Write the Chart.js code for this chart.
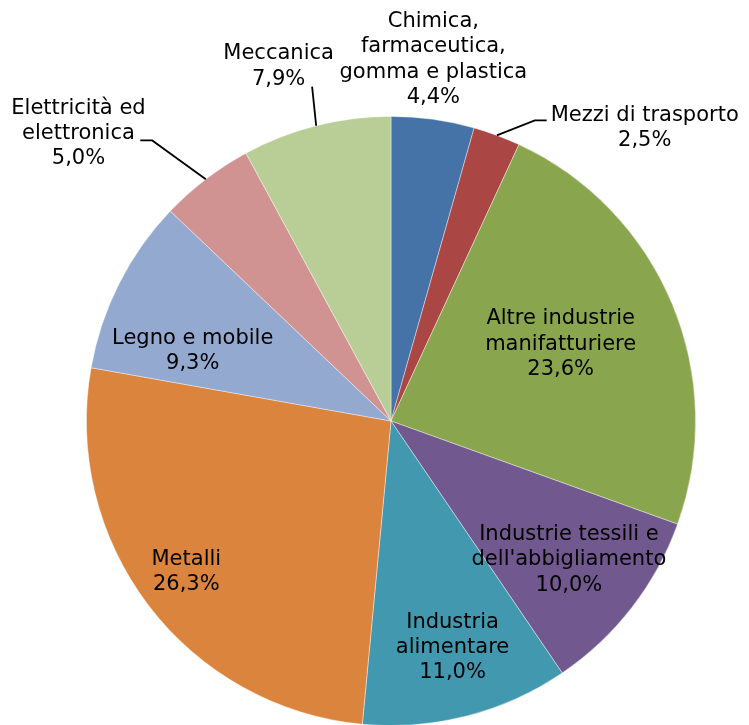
<!DOCTYPE html>
<html>
<head>
<meta charset="utf-8">
<script src="https://cdn.jsdelivr.net/npm/chart.js@4/dist/chart.umd.min.js"></script>
<style>
html,body{margin:0;padding:0;background:#fff;overflow:hidden;}
canvas{display:block;}
</style>
</head>
<body>
<canvas id="c" width="749" height="726"></canvas>
<script>
// ---- data ----
const categories = [
  "Chimica,\nfarmaceutica,\ngomma e plastica",
  "Mezzi di trasporto",
  "Altre industrie\nmanifatturiere",
  "Industrie tessili e\ndell'abbigliamento",
  "Industria\nalimentare",
  "Metalli",
  "Legno e mobile",
  "Elettricità ed\nelettronica",
  "Meccanica"
];
const shares = [4.4, 2.5, 23.6, 10.0, 11.0, 26.3, 9.3, 5.0, 7.9];
const colors = ["#4572A7","#AA4643","#89A54E","#71588F","#4198AF","#DB843D","#93A9CF","#D19392","#B9CD96"];

// ---- label layout (offsets from pie centre, in radius units) ----
const labelPos = [
  {dx: 0.139, dy: -1.187},
  {dx: 0.833, dy: -0.962, lead: [[0.511,-0.987],[0.472,-0.987]]},
  {dx: 0.557, dy: -0.252},
  {dx: 0.584, dy: 0.456},
  {dx: 0.202, dy: 0.744},
  {dx: -0.672, dy: 0.495},
  {dx: -0.651, dy: -0.230},
  {dx: -1.026, dy: -0.944, lead: [[-0.823,-0.921],[-0.784,-0.921]]},
  {dx: -0.369, dy: -1.164, lead: [[-0.259,-1.098],[-0.259,-1.098]]}
];

const fmt = v => v.toFixed(1).replace('.', ',') + '%';

const labelPlugin = {
  id: 'pieLabels',
  afterDatasetsDraw(chart) {
    const ctx = chart.ctx;
    const meta = chart.getDatasetMeta(0);
    ctx.save();
    ctx.font = '21px "DejaVu Sans", Verdana, sans-serif';
    ctx.textAlign = 'center';
    ctx.textBaseline = 'middle';
    meta.data.forEach((arc, i) => {
      const p = arc.getProps(['x','y','startAngle','endAngle','outerRadius'], true);
      const r = p.outerRadius;
      const lp = labelPos[i];
      if (lp.lead) {
        const mid = (p.startAngle + p.endAngle) / 2;
        const ex = p.x + Math.cos(mid) * r, ey = p.y + Math.sin(mid) * r;
        ctx.beginPath();
        ctx.strokeStyle = '#000';
        ctx.lineWidth = 1.8;
        ctx.moveTo(p.x + lp.lead[0][0]*r, p.y + lp.lead[0][1]*r);
        ctx.lineTo(p.x + lp.lead[1][0]*r, p.y + lp.lead[1][1]*r);
        ctx.lineTo(ex, ey);
        ctx.stroke();
      }
      const lines = categories[i].split('\n').concat([fmt(shares[i])]);
      const lh = 25.3;
      const cx = p.x + lp.dx * r, cy = p.y + lp.dy * r;
      const y0 = cy - (lines.length - 1) * lh / 2;
      ctx.fillStyle = '#000';
      lines.forEach((t, k) => ctx.fillText(t, cx, y0 + k * lh));
    });
    ctx.restore();
  }
};

new Chart(document.getElementById('c'), {
  type: 'pie',
  data: {
    labels: categories,
    datasets: [{
      data: shares,
      backgroundColor: colors,
      borderColor: 'rgba(255,255,255,0.5)',
      borderWidth: 0.8
    }]
  },
  options: {
    responsive: false,
    animation: false,
    layout: { padding: { top: 116, bottom: 0, left: 86, right: 53 } },
    plugins: { legend: { display: false }, tooltip: { enabled: false } }
  },
  plugins: [labelPlugin]
});
</script>
</body>
</html>
